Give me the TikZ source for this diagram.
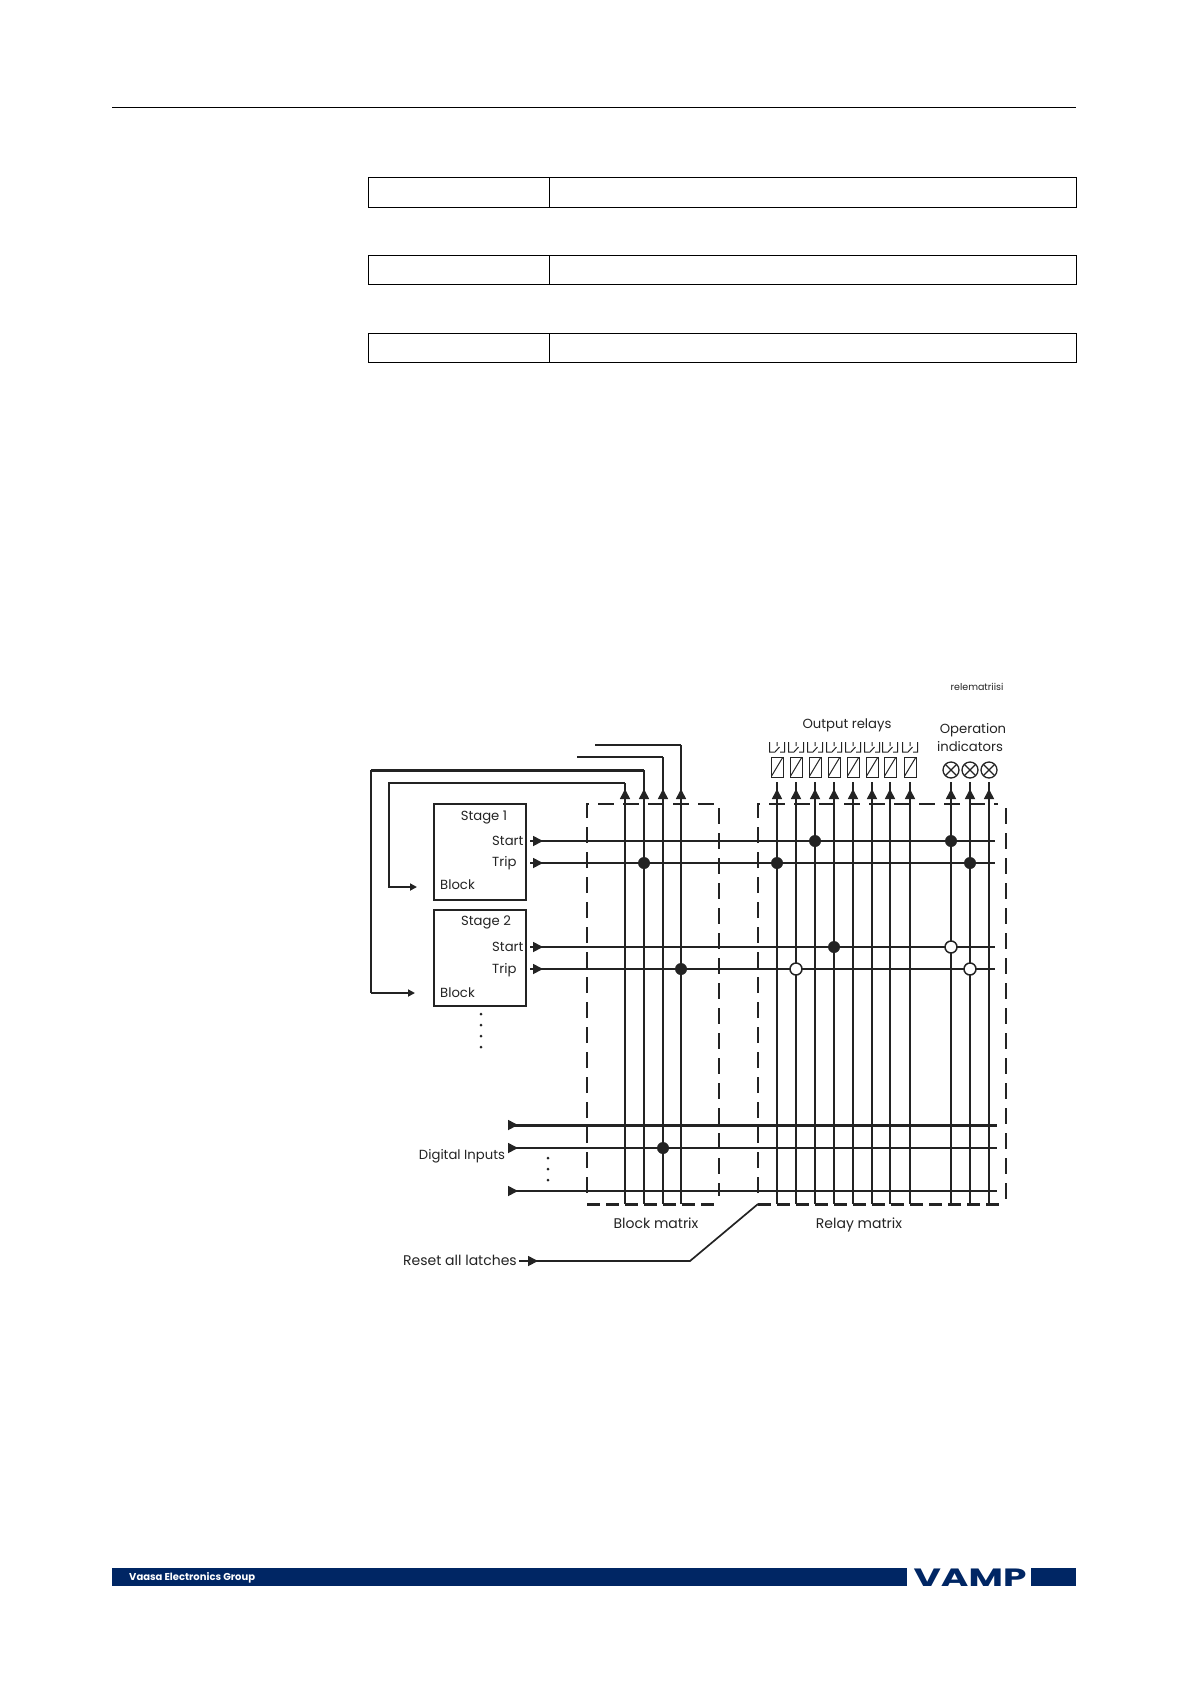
\documentclass[tikz,border=0pt]{standalone}
\usepackage{fontspec}
\setmainfont{Poppins}
\usepackage[dvipsnames]{xcolor}
\usetikzlibrary{
	positioning,
	arrows.meta
}
\definecolor{vampblue}{RGB}{0,38,100}
\definecolor{inkgrey}{RGB}{35,35,35}
\tikzset{
	bus/.style={line width=1.7pt,inkgrey},
	heavybus/.style={line width=3pt,inkgrey},
	busarrow/.style={line width=1.7pt,inkgrey,-{Triangle[length=10pt,width=10pt]}},
	smallarrow/.style={line width=1.7pt,inkgrey,-{Triangle[length=7pt,width=7pt]}},
	matrixedge/.style={line width=1.5pt,inkgrey,dash pattern=on 16pt off 9pt},
	matrixfloor/.style={line width=3pt,inkgrey,dash pattern=on 13pt off 6pt},
	tablebox/.style={draw=black,line width=0.8pt,minimum height=28pt,inner sep=0pt,outer sep=0pt},
	stagebox/.style={draw=inkgrey,line width=1.5pt,minimum width=92pt,inner sep=0pt,outer sep=0pt},
	coil/.style={draw=inkgrey,line width=1pt,minimum width=12pt,minimum height=20pt,inner sep=0pt,outer sep=0pt,
		path picture={\draw[inkgrey,line width=1pt] (path picture bounding box.south west) -- (path picture bounding box.north east);}},
	lamp/.style={circle,draw=inkgrey,line width=1.3pt,minimum size=16pt,inner sep=0pt,outer sep=0pt,
		path picture={\draw[inkgrey,line width=1.2pt] (path picture bounding box.south west) -- (path picture bounding box.north east)
			(path picture bounding box.north west) -- (path picture bounding box.south east);}},
	joined/.style={circle,fill=inkgrey,minimum size=12pt,inner sep=0pt},
	openjoin/.style={circle,draw=inkgrey,fill=white,line width=1.5pt,minimum size=12pt,inner sep=0pt},
	tinydot/.style={circle,fill=inkgrey,minimum size=3pt,inner sep=0pt},
	lbl/.style={inkgrey,font=\fontsize{13.2}{15}\selectfont,inner sep=0pt},
	contact/.pic={
		\draw[inkgrey,line width=1pt] (-7.5,-11) -- (-7.5,-1) -- (-2,-1) -- (2.5,-6)
			(0,-11) -- (0,-7)
			(3,-1) -- (7.5,-1) -- (7.5,-11);
	}
}

\begin{document}
\begin{tikzpicture}[x=1pt,y=-1pt]
	\useasboundingbox (0,0) rectangle (1190,1684);

	% page furniture
	\draw[black,line width=0.9pt] (112,107) -- (1076,107);
	\node [tablebox,minimum width=181pt,minimum height=30pt,anchor=north west] (t1a) at (368.5,177) {};
	\node [tablebox,minimum width=527pt,minimum height=30pt,anchor=north west] (t1b) at (549,177) {};
	\node [tablebox,minimum width=181pt,minimum height=29pt,anchor=north west] (t2a) at (368.5,255.5) {};
	\node [tablebox,minimum width=527pt,minimum height=29pt,anchor=north west] (t2b) at (549,255.5) {};
	\node [tablebox,minimum width=181pt,minimum height=29pt,anchor=north west] (t3a) at (368.5,333) {};
	\node [tablebox,minimum width=527pt,minimum height=29pt,anchor=north west] (t3b) at (549,333) {};

	\fill[vampblue] (112,1568) rectangle (907,1586);
	\fill[vampblue] (1031,1568) rectangle (1076,1586);
	\node [white,font=\fontsize{10}{10}\selectfont\bfseries,inner sep=0pt,anchor=west] (group) at (129,1577.5) {Vaasa Electronics Group};
	\node [vampblue,font=\fontsize{25}{25}\selectfont\bfseries,inner sep=0pt,xscale=1.5] (vamp) at (970,1577.5) {VAMP};

	% matrix frames
	\draw[matrixedge] (587,1193) -- (587,804) -- (719,804) -- (719,1196);
	\draw[matrixedge] (758,1193) -- (758,804) -- (998,804);
	\draw[matrixedge] (1006,808) -- (1006,1200);
	\draw[matrixfloor] (587,1204) -- (719,1204);
	\draw[matrixfloor] (758,1204) -- (1000,1204);

	% stages
	\node [stagebox,minimum height=96pt,anchor=north west] (stage1) at (434,804) {};
	\node [stagebox,minimum height=96pt,anchor=north west] (stage2) at (434,910) {};
	\node [lbl] (s1name) at (484,817) {Stage 1};
	\node [lbl,anchor=west] (s1start) at (492,841) {Start};
	\node [lbl,anchor=west] (s1trip) at (492,863) {Trip};
	\node [lbl,anchor=west] (s1block) at (440,885) {Block};
	\node [lbl] (s2name) at (486,922) {Stage 2};
	\node [lbl,anchor=west] (s2start) at (492,947) {Start};
	\node [lbl,anchor=west] (s2trip) at (492,970) {Trip};
	\node [lbl,anchor=west] (s2block) at (440,993) {Block};

	% row ends
	\coordinate (r1a) at (530,841); \coordinate (r1t) at (543,841); \coordinate (r1) at (995,841);
	\coordinate (r2a) at (530,863); \coordinate (r2t) at (543,863); \coordinate (r2) at (995,863);
	\coordinate (r3a) at (530,947); \coordinate (r3t) at (543,947); \coordinate (r3) at (995,947);
	\coordinate (r4a) at (530,969); \coordinate (r4t) at (543,969); \coordinate (r4) at (995,969);
	\coordinate (d1a) at (508,1125); \coordinate (d1t) at (518,1125); \coordinate (d1) at (997,1125);
	\coordinate (d2a) at (508,1148); \coordinate (d2t) at (518,1148); \coordinate (d2) at (997,1148);
	\coordinate (d3a) at (508,1191); \coordinate (d3t) at (518,1191); \coordinate (d3) at (997,1191);

	\draw[bus] (r1a) -- (r1);
	\draw[bus] (r2a) -- (r2);
	\draw[bus] (r3a) -- (r3);
	\draw[bus] (r4a) -- (r4);
	\draw[heavybus] (d1a) -- (d1);
	\draw[bus] (d2a) -- (d2);
	\draw[bus] (d3a) -- (d3);
	\draw[busarrow] (r1a) -- (r1t);
	\draw[busarrow] (r2a) -- (r2t);
	\draw[busarrow] (r3a) -- (r3t);
	\draw[busarrow] (r4a) -- (r4t);
	\draw[busarrow] (d1a) -- (d1t);
	\draw[busarrow] (d2a) -- (d2t);
	\draw[busarrow] (d3a) -- (d3t);

	% block matrix columns with their feedback
	\foreach \name/\xx/\ytop in {b1/625/783,b2/644/770,b3/663/757,b4/681/745,
		c1/777/782,c2/796/782,c3/815/782,c4/834/782,c5/853/782,c6/872/782,c7/890/782,c8/910/782,
		i1/951/782,i2/970/782,i3/989/782}{
		\coordinate (\name top) at (\xx,\ytop);
		\coordinate (\name bot) at (\xx,1204);
		\coordinate (\name a) at (\xx,799);
		\coordinate (\name t) at (\xx,789);
		\draw[bus] (\name top) -- (\name bot);
		\draw[busarrow] (\name a) -- (\name t);
	}
	\coordinate (b1in) at (389,783);
	\coordinate (b1low) at (389,887);
	\coordinate (b1end) at (417,887);
	\coordinate (b2in) at (371,770);
	\coordinate (b2low) at (371,993);
	\coordinate (b2end) at (415,993);
	\coordinate (b3in) at (577,757);
	\coordinate (b4in) at (595,745);
	\draw[smallarrow] (b1top) -- (b1in) -- (b1low) -- (b1end);
	\draw[heavybus] (b2top) -- (b2in);
	\draw[bus] (b2in) -- (b2low);
	\draw[smallarrow] (b2low) -- (b2end);
	\draw[bus] (b3top) -- (b3in);
	\draw[bus] (b4top) -- (b4in);

	% crossings
	\node [joined] (j1) at (b2a |- r2) {};
	\node [joined] (j2) at (c1a |- r2) {};
	\node [joined] (j3) at (c3a |- r1) {};
	\node [joined] (j4) at (i1a |- r1) {};
	\node [joined] (j5) at (i2a |- r2) {};
	\node [joined] (j6) at (c4a |- r3) {};
	\node [joined] (j7) at (b4a |- r4) {};
	\node [joined] (j8) at (b3a |- d2) {};
	\node [openjoin] (o1) at (c2a |- r4) {};
	\node [openjoin] (o2) at (i1a |- r3) {};
	\node [openjoin] (o3) at (i2a |- r4) {};

	% relays and indicators
	\node [coil] (k1) at (777,767) {};
	\node [coil,right=7pt of k1] (k2) {};
	\node [coil,right=7pt of k2] (k3) {};
	\node [coil,right=7pt of k3] (k4) {};
	\node [coil,right=7pt of k4] (k5) {};
	\node [coil,right=7pt of k5] (k6) {};
	\node [coil,right=6pt of k6] (k7) {};
	\node [coil,right=8pt of k7] (k8) {};
	\foreach \xx in {777,796,815,834,853,872,890,910}{
		\pic at (\xx,753) {contact};
	}
	\node [lamp] (l1) at (951,770) {};
	\node [lamp] (l2) at (970,770) {};
	\node [lamp] (l3) at (989,770) {};

	% reset line
	\coordinate (resetfrom) at (519,1261);
	\coordinate (resettip) at (538,1261);
	\coordinate (resetbend) at (690,1261);
	\coordinate (resetend) at (758,1204);
	\draw[bus] (resetfrom) -- (resetbend) -- (resetend);
	\draw[busarrow] (resetfrom) -- (resettip);

	% dots
	\node [tinydot] (v1) at (481,1014) {};
	\node [tinydot] (v2) at (481,1025) {};
	\node [tinydot] (v3) at (481,1036) {};
	\node [tinydot] (v4) at (481,1047) {};
	\node [tinydot] (w1) at (548,1158) {};
	\node [tinydot] (w2) at (548,1169) {};
	\node [tinydot] (w3) at (548,1180) {};

	% labels
	\node [lbl] (outlbl) at (847,725) {Output relays};
	\node [lbl] (oplbl) at (973,730) {Operation};
	\node [lbl] (indlbl) at (970,747) {indicators};
	\node [lbl,font=\fontsize{9.5}{11}\selectfont] (figname) at (977,687) {relematriisi};
	\node [lbl] (dilbl) at (462,1156) {Digital Inputs};
	\node [lbl,anchor=west,font=\fontsize{14}{16}\selectfont] (resetlbl) at (403,1260) {Reset all latches};
	\node [lbl,font=\fontsize{14}{16}\selectfont] (blocklbl) at (656,1223) {Block matrix};
	\node [lbl,font=\fontsize{14}{16}\selectfont] (relaylbl) at (859,1225) {Relay matrix};
\end{tikzpicture}
\end{document}
